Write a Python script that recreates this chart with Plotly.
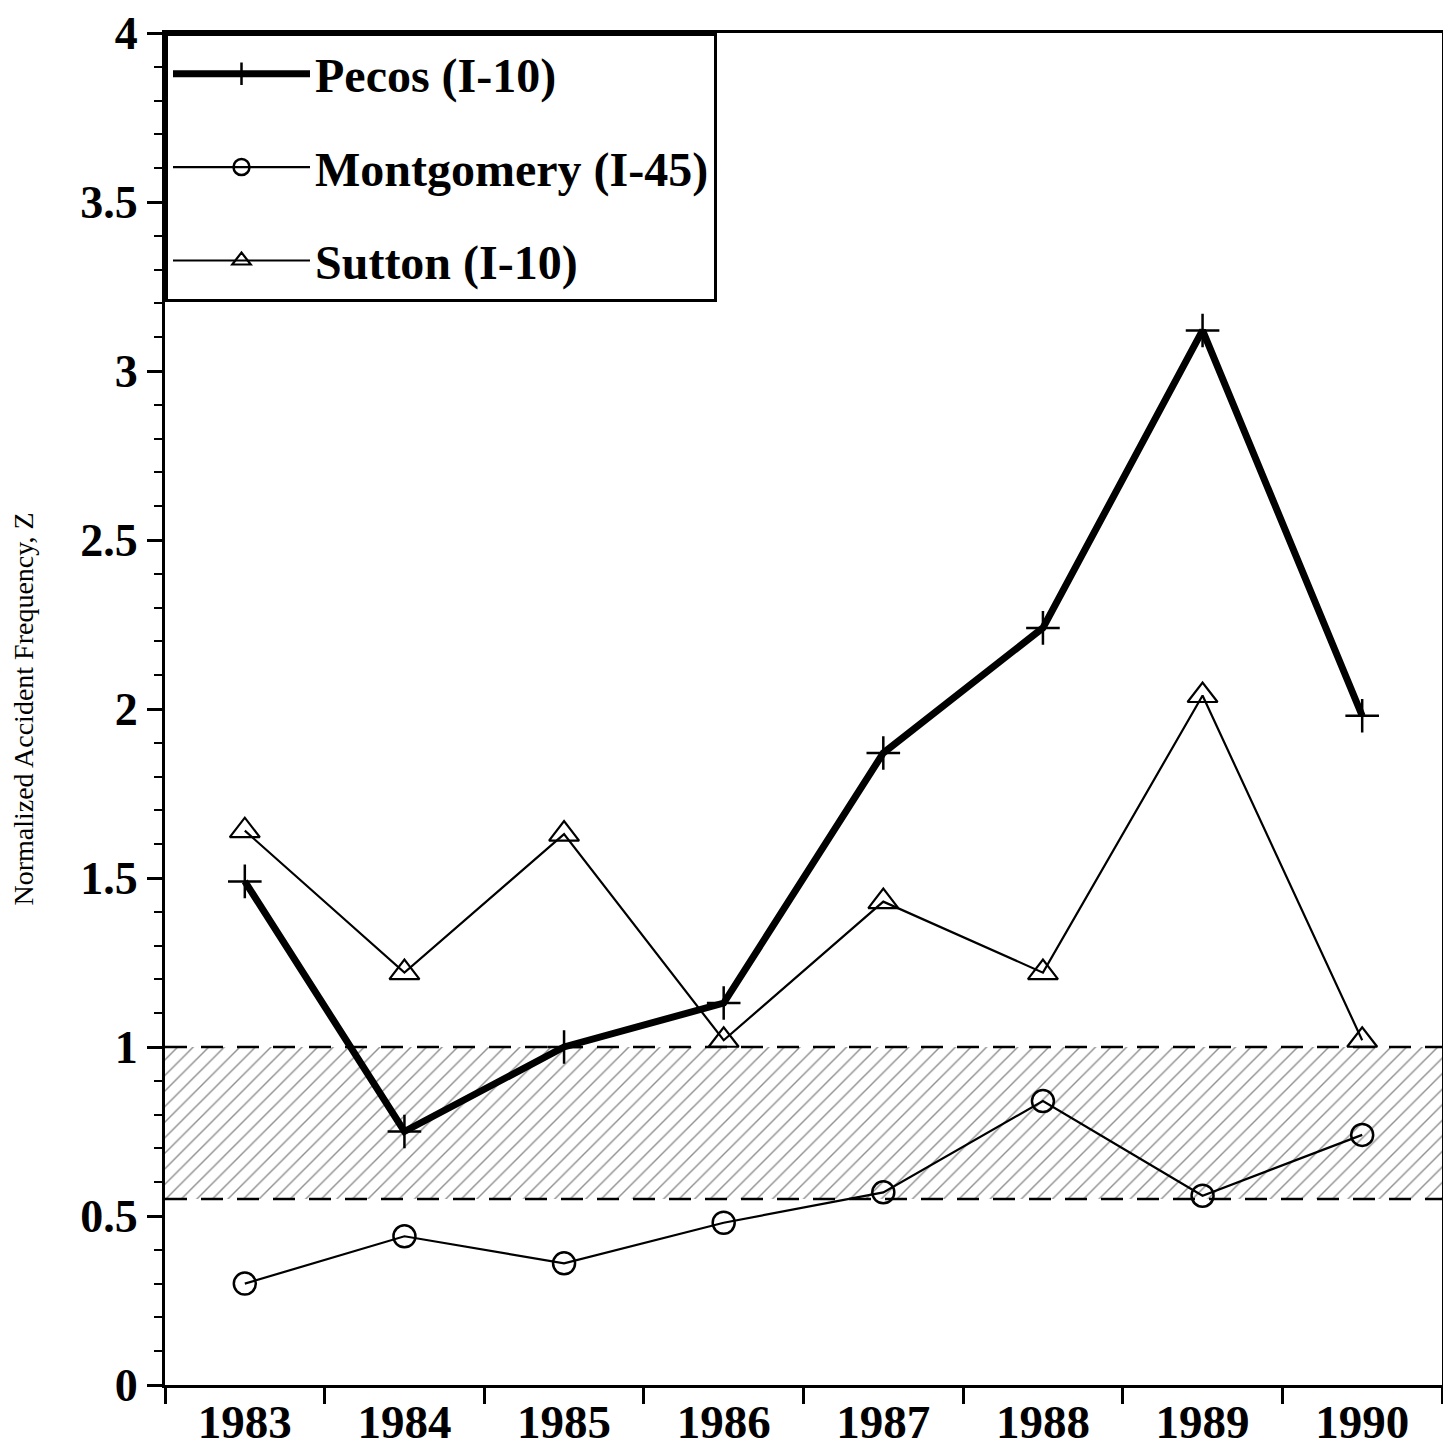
import plotly.graph_objects as go

years = [1983, 1984, 1985, 1986, 1987, 1988, 1989, 1990]
pecos = [1.49, 0.75, 1.00, 1.13, 1.87, 2.24, 3.12, 1.98]
montgomery = [0.30, 0.44, 0.36, 0.48, 0.57, 0.84, 0.56, 0.74]
sutton = [1.64, 1.22, 1.63, 1.02, 1.43, 1.22, 2.04, 1.02]

band_low, band_high = 0.55, 1.0
x_lo, x_hi = years[0] - 0.5, years[-1] + 0.5

SERIF = "Liberation Serif, Times New Roman, serif"

fig = go.Figure()

# shaded band (hatched) between the two dashed lines
fig.add_trace(go.Scatter(
    x=[x_lo, x_hi, x_hi, x_lo, x_lo],
    y=[band_low, band_low, band_high, band_high, band_low],
    mode='lines', line=dict(width=0),
    fill='toself', fillcolor='rgba(0,0,0,0)',
    fillpattern=dict(shape='/', fgcolor='#222', bgcolor='white',
                     size=11, solidity=0.13),
    showlegend=False, hoverinfo='skip',
))

for yv in (band_high, band_low):
    fig.add_hline(y=yv, line=dict(color='black', width=2.5, dash='22px,14px'))

fig.add_trace(go.Scatter(
    x=years, y=pecos, name='Pecos (I-10)', legendgroup='a',
    mode='lines+markers',
    line=dict(color='black', width=7),
    marker=dict(symbol='cross-thin', size=24, line=dict(color='black', width=2.5)),
))
fig.add_trace(go.Scatter(
    x=years, y=montgomery, name='Montgomery (I-45)', legendgroup='b',
    mode='lines+markers',
    line=dict(color='black', width=2.2),
    marker=dict(symbol='circle-open', size=22, color='black', line=dict(width=2.5)),
))
fig.add_trace(go.Scatter(
    x=years, y=sutton, name='Sutton (I-10)', legendgroup='c',
    mode='lines+markers',
    line=dict(color='black', width=2.2),
    marker=dict(symbol='triangle-up-open', size=26, color='black', line=dict(width=2.2)),
))

# page body has an 8px margin, so the figure is a little smaller than the window
fig.update_layout(
    width=1443, height=1445,
    paper_bgcolor='white', plot_bgcolor='white',
    margin=dict(l=157, r=9, t=25, b=68),
    font=dict(family=SERIF, color='black'),
    legend=dict(
        x=0, y=1, xanchor='left', yanchor='top',
        bgcolor='white', bordercolor='black', borderwidth=3,
        font=dict(family=SERIF, size=48, color='black', weight='bold'),
        tracegroupgap=28, itemwidth=137,
    ),
    xaxis=dict(
        range=[x_lo, x_hi], tickmode='array', tickvals=years,
        ticktext=[str(y) for y in years], ticks='', automargin=False,
        tickfont=dict(size=47, family=SERIF, weight='bold'),
        ticklabelstandoff=-6,
        showgrid=False, zeroline=False,
        showline=True, linecolor='black', linewidth=3, mirror=True,
        minor=dict(tickmode='linear', tick0=x_lo, dtick=1, ticks='outside',
                   ticklen=16, tickwidth=2.5, tickcolor='black', showgrid=False),
    ),
    yaxis=dict(
        range=[0, 4], dtick=0.5, ticks='outside', ticklen=15, tickwidth=2.5,
        tickcolor='black', automargin=False,
        tickfont=dict(size=46, family=SERIF, weight='bold'),
        showgrid=False, zeroline=False,
        showline=True, linecolor='black', linewidth=3, mirror=True,
        minor=dict(dtick=0.1, ticks='outside', ticklen=8, tickwidth=2,
                   tickcolor='black', showgrid=False),
        title=dict(text='Normalized Accident Frequency, Z',
                   font=dict(size=28, family=SERIF), standoff=40),
    ),
)

fig.write_html("out.html")
